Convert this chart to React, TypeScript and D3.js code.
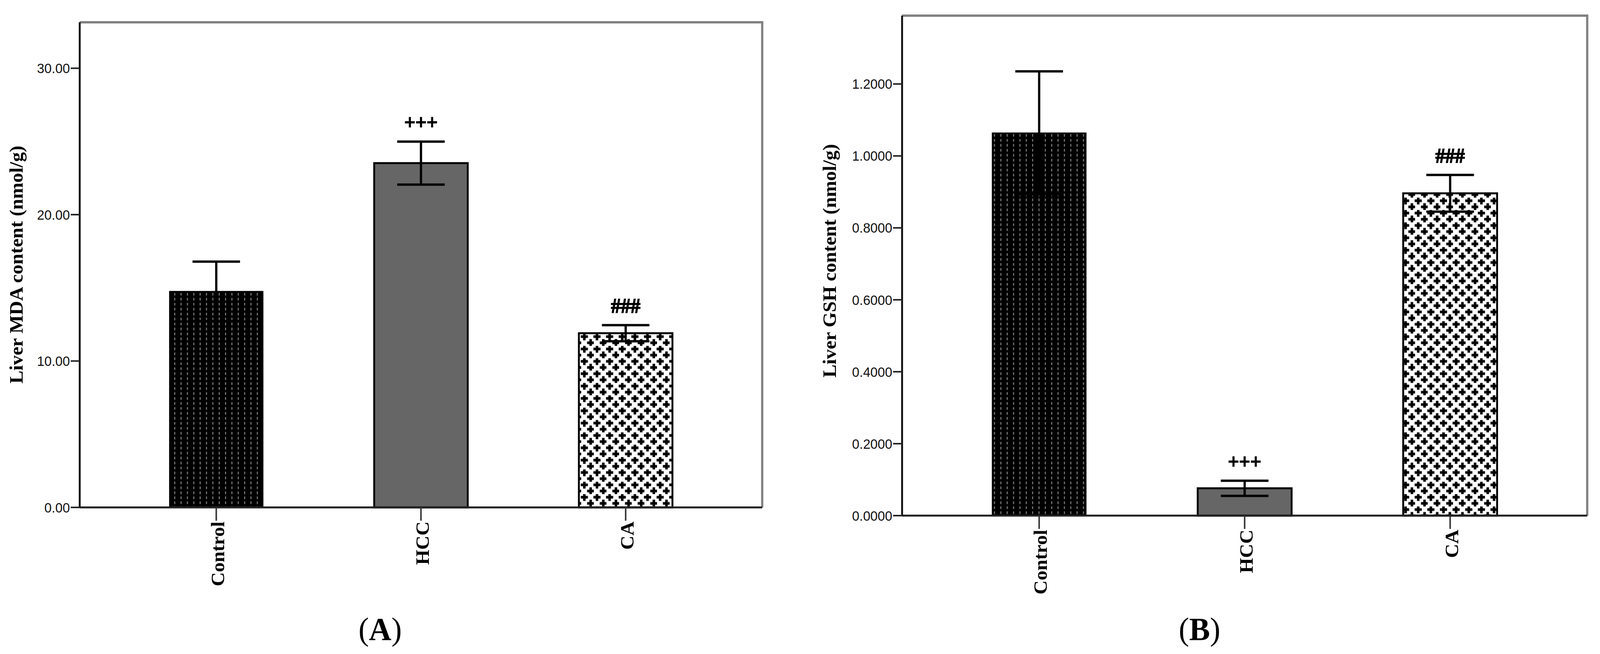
import React, { useEffect } from 'react';
import * as d3 from 'd3';

// ---------- data ----------
const categories = ['Control', 'HCC', 'CA'];

const mdaMeans = [14.76, 23.52, 11.9];
const mdaErrors = [2.03, 1.47, 0.55];
const mdaMarks = ['', '+++', '###'];
const mdaTicks = [0, 10, 20, 30];

const gshMeans = [1.064, 0.076, 0.896];
const gshErrors = [0.171, 0.021, 0.051];
const gshMarks = ['', '+++', '###'];
const gshTicks = [0, 0.2, 0.4, 0.6, 0.8, 1.0, 1.2];

// ---------- styles ----------
const W = 4255;
const H = 1673;
const SERIF = '"Liberation Serif", "Times New Roman", serif';
const SANS = '"Liberation Sans", Arial, sans-serif';
const barFills = ['url(#dashes)', '#666666', 'url(#plus)'];

type PanelProps = {
  left: number;
  right: number;
  top: number;
  bottom: number;
  yMax: number;
  ticks: number[];
  fmt: (n: number) => string;
  title: string;
  titleX: number;
  titleY: number;
  means: number[];
  errors: number[];
  marks: string[];
  letter: string;
  letterX: number;
};

function Panel(p: PanelProps) {
  const x = d3.scalePoint<string>().domain(categories).range([p.left, p.right]).padding(0.667);
  const y = d3.scaleLinear().domain([0, p.yMax]).range([p.bottom, p.top]);
  const step = x.step();
  const bw = step * 0.457;
  const capHalf = step * 0.116;
  return (
    <g>
      {/* frame top & right (gray) */}
      <line x1={p.left} x2={p.right + 3} y1={p.top} y2={p.top} stroke="#828282" strokeWidth={6} />
      <line x1={p.right} x2={p.right} y1={p.top} y2={p.bottom} stroke="#828282" strokeWidth={6} />
      {/* bars */}
      {categories.map((c, i) => {
        const cx = x(c) as number;
        const yt = y(p.means[i]);
        return (
          <rect
            key={'b' + c}
            x={cx - bw / 2}
            y={yt}
            width={bw}
            height={p.bottom - yt}
            fill={barFills[i]}
            stroke="#000"
            strokeWidth={i === 0 ? 2 : 5}
          />
        );
      })}
      {/* error bars */}
      {categories.map((c, i) => {
        const cx = x(c) as number;
        const hi = y(p.means[i] + p.errors[i]);
        const lo = y(p.means[i] - p.errors[i]);
        return (
          <g key={'e' + c} stroke="#000" strokeWidth={6}>
            <line x1={cx} x2={cx} y1={hi} y2={lo} />
            <line x1={cx - capHalf} x2={cx + capHalf} y1={hi} y2={hi} />
            <line x1={cx - capHalf} x2={cx + capHalf} y1={lo} y2={lo} />
          </g>
        );
      })}
      {/* significance marks */}
      {categories.map((c, i) =>
        p.marks[i] ? (
          <text
            key={'m' + c}
            x={x(c) as number}
            y={y(p.means[i] + p.errors[i]) - 32}
            textAnchor="middle"
            fontFamily={SERIF}
            fontWeight="bold"
            fontSize={52}
            stroke="#000"
            strokeWidth={2}
          >
            {p.marks[i]}
          </text>
        ) : null
      )}
      {/* axes */}
      <line x1={p.left} x2={p.right} y1={p.bottom} y2={p.bottom} stroke="#222" strokeWidth={5} />
      <line x1={p.left} x2={p.left} y1={p.top} y2={p.bottom} stroke="#111" strokeWidth={5} />
      {p.ticks.map((t) => (
        <g key={'t' + t}>
          <line x1={p.left - 24} x2={p.left} y1={y(t)} y2={y(t)} stroke="#222" strokeWidth={4} />
          <text
            x={p.left - 26}
            y={y(t)}
            dy="0.36em"
            textAnchor="end"
            fontFamily={SANS}
            fontSize={35}
            fill="#111"
          >
            {p.fmt(t)}
          </text>
        </g>
      ))}
      {categories.map((c) => {
        const cx = x(c) as number;
        return (
          <g key={'c' + c}>
            <line x1={cx} x2={cx} y1={p.bottom} y2={p.bottom + 34} stroke="#333" strokeWidth={4} />
            <text
              transform={`translate(${cx + 21},${p.bottom + 36}) rotate(-90)`}
              textAnchor="end"
              fontFamily={SERIF}
              fontWeight="bold"
              fontSize={50}
            >
              {c}
            </text>
          </g>
        );
      })}
      {/* y title */}
      <text
        transform={`translate(${p.titleX},${p.titleY}) rotate(-90)`}
        textAnchor="middle"
        fontFamily={SERIF}
        fontWeight="bold"
        fontSize={50}
      >
        {p.title}
      </text>
      {/* panel letter */}
      <text x={p.letterX} y={1637} textAnchor="middle" fontFamily={SERIF} fontSize={83}>
        (<tspan fontWeight="bold">{p.letter}</tspan>)
      </text>
    </g>
  );
}

export default function App() {
  useEffect(() => {
    document.body.style.margin = '0';
    document.body.style.overflow = 'hidden';
  }, []);
  return (
    <svg
      viewBox={`0 0 ${W} ${H}`}
      preserveAspectRatio="none"
      style={{
        position: 'fixed',
        left: 0,
        top: 0,
        width: '100vw',
        height: '100vh',
        display: 'block',
        background: '#fff',
      }}
    >
      <defs>
        <pattern id="dashes" patternUnits="userSpaceOnUse" width={16.9} height={12.7}>
          <rect width={16.9} height={12.7} fill="#000" />
          <rect x={7} y={0} width={2.7} height={6.7} fill="#808080" />
        </pattern>
        <pattern id="plus" patternUnits="userSpaceOnUse" width={33.6} height={31.6}>
          <rect width={33.6} height={31.6} fill="#fff" />
          <g fill="#000">
            <rect x={8.4 - 9.5} y={7.9 - 3.4} width={19} height={6.8} />
            <rect x={8.4 - 3.4} y={7.9 - 9.5} width={6.8} height={19} />
            <rect x={25.2 - 9.5} y={23.7 - 3.4} width={19} height={6.8} />
            <rect x={25.2 - 3.4} y={23.7 - 9.5} width={6.8} height={19} />
            <rect x={33.6 + 8.4 - 9.5} y={7.9 - 3.4} width={19} height={6.8} />
          </g>
        </pattern>
      </defs>
      <rect width={W} height={H} fill="#fff" />
      <Panel
        left={212}
        right={2027}
        top={57}
        bottom={1298}
        yMax={33.14}
        ticks={mdaTicks}
        fmt={d3.format('.2f')}
        title="Liver MDA content (nmol/g)"
        titleX={60}
        titleY={677}
        means={mdaMeans}
        errors={mdaErrors}
        marks={mdaMarks}
        letter="A"
        letterX={1011}
      />
      <Panel
        left={2399}
        right={4221}
        top={40}
        bottom={1319}
        yMax={1.39}
        ticks={gshTicks}
        fmt={d3.format('.4f')}
        title="Liver GSH content (nmol/g)"
        titleX={2223}
        titleY={667}
        means={gshMeans}
        errors={gshErrors}
        marks={gshMarks}
        letter="B"
        letterX={3190}
      />
    </svg>
  );
}
